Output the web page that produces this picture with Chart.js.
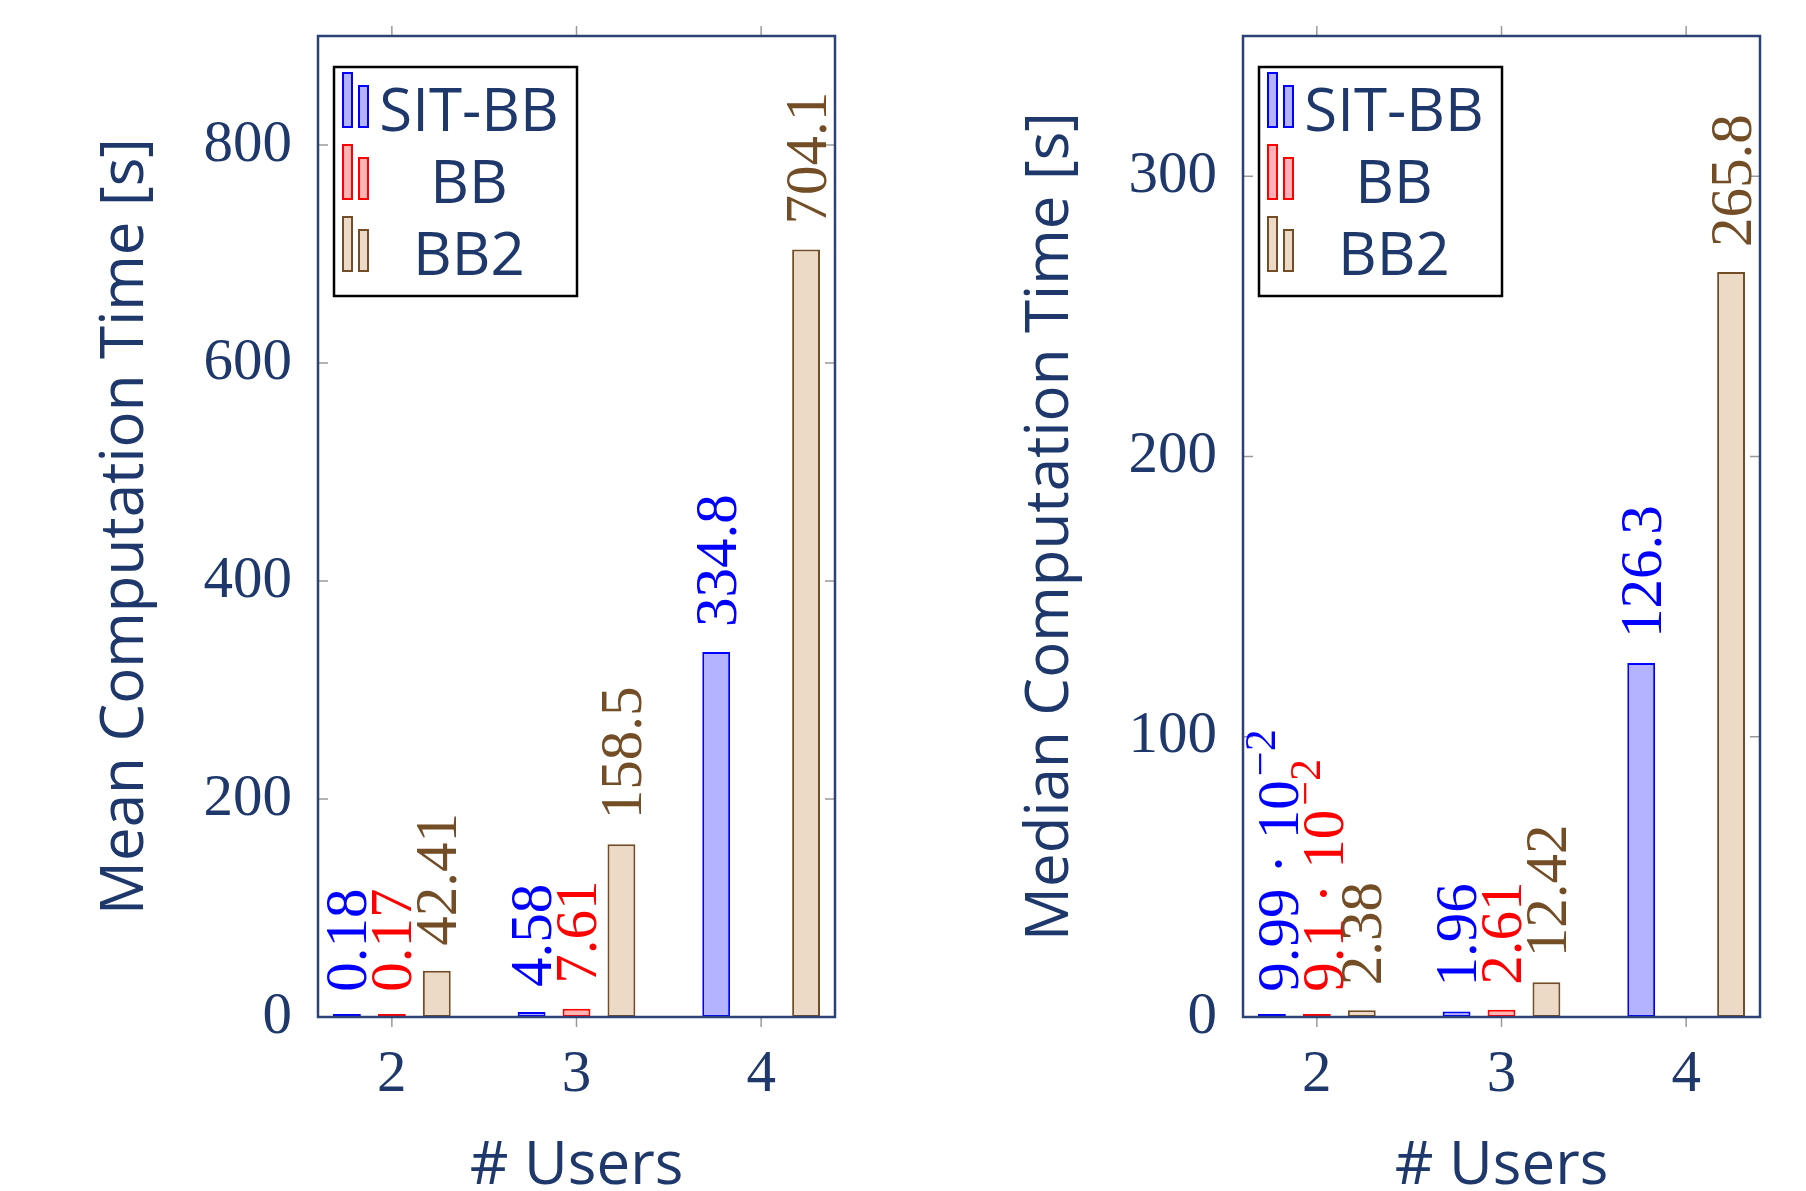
<!DOCTYPE html>
<html>
<head>
<meta charset="utf-8">
<script src="https://cdn.jsdelivr.net/npm/chart.js@4.4.0/dist/chart.umd.min.js"></script>
<style>
html, body { margin: 0; padding: 0; background: #fff; }
#wrap { position: relative; width: 1806px; height: 1191px; }
canvas { position: absolute; top: 0; }
#left { left: 0; }
#right { left: 900px; }
</style>
</head>
<body>
<div id="wrap">
  <canvas id="left" width="900" height="1191"></canvas>
  <canvas id="right" width="906" height="1191"></canvas>
</div>
<script>
// data
const users = [2, 3, 4];
const seriesNames = ['SIT-BB', 'BB', 'BB2'];
// mean computation time [s]
const meanSitBB = [0.18, 4.58, 334.8];
const meanBB = [0.17, 7.61, null];
const meanBB2 = [42.41, 158.5, 704.1];
// median computation time [s]
const medianSitBB = [0.0999, 1.96, 126.3];
const medianBB = [0.091, 2.61, null];
const medianBB2 = [2.38, 12.42, 265.8];
const meanTicks = [0, 200, 400, 600, 800];
const medianTicks = [0, 100, 200, 300];

const strokes = ['#0000ff', '#ff0000', '#734d26'];
const fills = ['#b3b3ff', '#ffb3b3', '#ecd9c6'];
const NAVY = '#1f386b';
const SANS = '"Open Sans", sans-serif';
const SERIF = '"Liberation Serif", serif';
const LBL = 59;

// pgfplots-ish number printing
function formatValue(v) {
  const trim = s => s.replace(/\.?0+$/, '');
  if (v !== 0 && Math.abs(v) < 0.1) {
    const e = Math.floor(Math.log10(Math.abs(v)));
    const m = v / Math.pow(10, e);
    return { main: trim(m.toFixed(2)) + ' \u00b7 10', sup: '\u2212' + Math.abs(e) };
  }
  return { main: trim(v.toFixed(2)) };
}

const frame = {
  id: 'frame',
  afterDatasetsDraw(chart) {
    const { ctx, chartArea: a, scales } = chart;
    ctx.save();
    ctx.strokeStyle = '#9a9a9a';
    ctx.lineWidth = 1.5;
    ctx.beginPath();
    scales.x.ticks.forEach(t => {
      const px = scales.x.getPixelForValue(t.value);
      ctx.moveTo(px, a.bottom); ctx.lineTo(px, a.bottom + 10);
      ctx.moveTo(px, a.top - 10); ctx.lineTo(px, a.top);
    });
    scales.y.ticks.forEach(t => {
      const py = scales.y.getPixelForValue(t.value);
      ctx.moveTo(a.left, py); ctx.lineTo(a.left + 10, py);
      ctx.moveTo(a.right - 10, py); ctx.lineTo(a.right, py);
    });
    ctx.stroke();
    ctx.strokeStyle = '#2a4275';
    ctx.lineWidth = 2.5;
    ctx.strokeRect(a.left, a.top, a.width, a.height);
    ctx.restore();
  }
};

const valueLabels = {
  id: 'valueLabels',
  afterDatasetsDraw(chart) {
    const ctx = chart.ctx;
    const yScale = chart.scales.y;
    chart.data.datasets.forEach((ds, i) => {
      const meta = chart.getDatasetMeta(i);
      meta.data.forEach((bar, k) => {
        const v = ds.data[k].y;
        if (v == null) return;
        const top = yScale.getPixelForValue(v);
        const lab = formatValue(v);
        const capH = 0.66 * LBL;
        ctx.save();
        ctx.translate(bar.x, top - 25);
        ctx.rotate(-Math.PI / 2);
        ctx.fillStyle = strokes[i];
        ctx.textAlign = 'left';
        ctx.textBaseline = 'alphabetic';
        ctx.font = LBL + 'px ' + SERIF;
        if (lab.sup) {
          const supSize = LBL * 0.75, raise = 23;
          const ext = Math.max(capH, raise + 0.66 * supSize);
          const base = ext / 2;
          ctx.fillText(lab.main, 0, base);
          const w = ctx.measureText(lab.main).width;
          ctx.font = supSize + 'px ' + SERIF;
          ctx.fillText(lab.sup, w + 4, base - raise);
        } else {
          ctx.fillText(lab.main, 0, capH / 2);
        }
        ctx.restore();
      });
    });
  }
};

function legendBar(ctx, x, y, w, h, fill, stroke) {
  ctx.fillStyle = fill;
  ctx.fillRect(x, y, w, h);
  ctx.strokeStyle = stroke;
  ctx.lineWidth = 2;
  ctx.strokeRect(x, y, w, h);
}

const legendBox = {
  id: 'legendBox',
  afterDraw(chart) {
    const { ctx, chartArea: a } = chart;
    const x0 = a.left + 16, y0 = a.top + 31, w = 243, h = 229;
    ctx.save();
    ctx.fillStyle = '#fff';
    ctx.fillRect(x0, y0, w, h);
    ctx.strokeStyle = '#000';
    ctx.lineWidth = 2.5;
    ctx.strokeRect(x0, y0, w, h);
    chart.data.datasets.forEach((ds, i) => {
      const cy = y0 + 42.5 + i * 72;
      const bottom = cy + 17.5;
      legendBar(ctx, x0 + 9, bottom - 54, 9, 54, ds.backgroundColor, ds.borderColor);
      legendBar(ctx, x0 + 25, bottom - 41, 9, 41, ds.backgroundColor, ds.borderColor);
      ctx.fillStyle = NAVY;
      ctx.font = '60px ' + SANS;
      ctx.textAlign = 'center';
      ctx.textBaseline = 'alphabetic';
      ctx.fillText(ds.label, x0 + 135, cy + 0.714 * 30);
    });
    ctx.restore();
  }
};

function makeChart(id, series, yMax, yTicks, yTitle, yWidth, padRight, titlePad) {
  const datasets = series.map((vals, i) => ({
    label: seriesNames[i],
    data: users.map((u, k) => ({ x: u, y: vals[k] })),
    backgroundColor: fills[i],
    borderColor: strokes[i],
    borderWidth: 2,
    borderSkipped: false,
    minBarLength: 3,
    categoryPercentage: 0.73,
    barPercentage: 0.62
  }));
  return new Chart(document.getElementById(id), {
    type: 'bar',
    data: { datasets },
    options: {
      responsive: false,
      devicePixelRatio: 1,
      animation: false,
      layout: { padding: { top: 36, right: padRight, left: 0, bottom: 0 } },
      plugins: { legend: { display: false }, tooltip: { enabled: false } },
      scales: {
        x: {
          type: 'linear', min: 1.6, max: 4.4, offset: false,
          afterBuildTicks: s => { s.ticks = users.map(v => ({ value: v })); },
          afterFit: s => { s.height = 174; s.paddingLeft = 0; s.paddingRight = 0; },
          grid: { display: false, drawTicks: false },
          border: { display: false },
          ticks: { color: NAVY, font: { family: SERIF, size: 59 }, padding: 23, maxRotation: 0, autoSkip: false },
          title: { display: true, text: '# Users', color: NAVY, font: { family: SANS, size: 60, lineHeight: 1 }, padding: { top: 0, bottom: -6 } }
        },
        y: {
          min: 0, max: yMax,
          afterBuildTicks: s => { s.ticks = yTicks.map(v => ({ value: v })); },
          afterFit: s => { s.width = yWidth; s.paddingTop = 0; s.paddingBottom = 0; },
          grid: { display: false, drawTicks: false },
          border: { display: false },
          ticks: { color: NAVY, font: { family: SERIF, size: 59 }, padding: 26 },
          title: { display: true, text: yTitle, color: NAVY, font: { family: SANS, size: 60, lineHeight: 1 }, padding: { top: titlePad, bottom: 0 } }
        }
      }
    },
    plugins: [frame, valueLabels, legendBox]
  });
}

makeChart('left', [meanSitBB, meanBB, meanBB2], 900, meanTicks, 'Mean Computation Time [s]', 318, 65, 96);
makeChart('right', [medianSitBB, medianBB, medianBB2], 350, medianTicks, 'Median Computation Time [s]', 343, 46, 121);
</script>
</body>
</html>
